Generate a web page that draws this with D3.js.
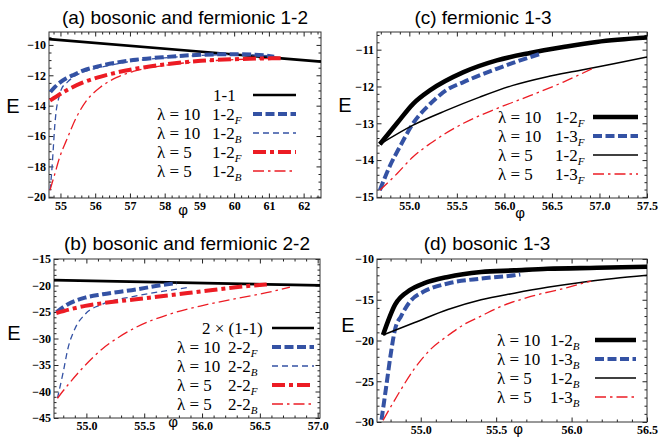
<!DOCTYPE html>
<html>
<head>
<meta charset="utf-8">
<script src="https://cdn.jsdelivr.net/npm/d3@7"></script>
<style>
body { margin: 0; background: #fff; }
svg { display: block; }
.tick text { font-family: "Liberation Serif", "Times New Roman", serif; font-weight: bold; font-size: 12px; fill: #000; }
.tick line { stroke: #222; }
</style>
</head>
<body>
<svg></svg>
<script>
// ---- data (phi, E) ----
// (a) bosonic and fermionic 1-2
var a_11 = [[54.67, -9.62], [62.5, -11.1]];
var a_12F_l10 = [[54.71, -13.1], [54.85, -12.75], [55.0, -12.45], [55.17, -12.2], [55.4, -11.95], [55.65, -11.7], [56.14, -11.38], [57.09, -11.0], [58.06, -10.79], [59.03, -10.65], [60.0, -10.61], [60.6, -10.64], [61.15, -10.78]];
var a_12B_l10 = [[54.7, -19.56], [54.75, -18.3], [54.79, -16.94], [54.83, -15.5], [54.88, -14.3], [54.95, -13.5], [55.03, -12.9], [55.2, -12.45], [55.36, -12.14], [55.7, -11.75], [56.14, -11.49], [57.0, -11.1], [58.0, -10.85], [59.0, -10.7], [60.0, -10.63], [61.0, -10.72]];
var a_12F_l5 = [[54.7, -13.67], [55.17, -13.0], [55.65, -12.47], [56.14, -12.1], [57.09, -11.6], [58.06, -11.27], [59.03, -11.05], [60.0, -10.94], [61.34, -10.88]];
var a_12B_l5 = [[54.7, -19.56], [54.84, -18.47], [54.98, -17.38], [55.17, -16.3], [55.46, -14.76], [55.75, -13.67], [56.14, -12.8], [56.62, -12.14], [57.09, -11.75], [58.0, -11.35], [59.0, -11.1], [60.0, -10.97], [61.0, -10.9]];
// (c) fermionic 1-3
var c_12F_l10 = [[54.69, -13.57], [54.87, -13.0], [55.04, -12.47], [55.22, -12.1], [55.57, -11.61], [55.92, -11.29], [56.27, -11.09], [56.62, -10.93], [56.97, -10.79], [57.5, -10.67]];
var c_13F_l10 = [[54.69, -14.82], [54.79, -14.19], [54.9, -13.64], [55.04, -13.0], [55.22, -12.47], [55.39, -12.1], [55.57, -11.88], [55.92, -11.52], [56.09, -11.36], [56.37, -11.12]];
var c_12F_l5 = [[54.69, -13.57], [55.04, -13.05], [55.39, -12.65], [55.74, -12.29], [56.09, -11.97], [56.44, -11.74], [56.8, -11.56], [57.15, -11.38], [57.5, -11.2]];
var c_13F_l5 = [[54.69, -14.82], [54.87, -14.37], [55.04, -13.91], [55.22, -13.55], [55.57, -13.0], [55.92, -12.6], [56.27, -12.25], [56.62, -11.88], [56.92, -11.52]];
// (b) bosonic and fermionic 2-2
var b_11x2 = [[54.72, -18.98], [57.02, -19.98]];
var b_22F_l10 = [[54.74, -25.08], [54.84, -23.53], [54.99, -22.28], [55.14, -21.66], [55.43, -20.75], [55.6, -20.1], [55.78, -19.55]];
var b_22B_l10 = [[54.75, -41.27], [54.8, -36.29], [54.84, -31.93], [54.9, -28.2], [54.99, -25.39], [55.14, -23.53], [55.43, -21.97], [55.72, -20.9], [55.9, -20.3]];
var b_22F_l5 = [[54.74, -25.2], [54.99, -23.84], [55.14, -23.34], [55.43, -22.59], [55.72, -21.85], [56.02, -21.04], [56.31, -20.29], [56.56, -19.79]];
var b_22B_l5 = [[54.75, -41.27], [54.84, -38.78], [54.99, -35.04], [55.14, -31.93], [55.28, -29.75], [55.43, -27.88], [55.72, -25.39], [56.02, -23.7], [56.31, -22.4], [56.61, -21.1], [56.76, -20.3]];
// (d) bosonic 1-3
var d_12B_l10 = [[54.75, -19.32], [54.83, -15.6], [54.93, -13.8], [55.02, -13.0], [55.18, -12.2], [55.4, -11.6], [55.62, -11.4], [55.84, -11.2], [56.17, -11.08], [56.5, -10.95]];
var d_13B_l10 = [[54.74, -29.72], [54.77, -25.8], [54.8, -21.8], [54.83, -18.6], [54.87, -17.0], [54.93, -15.2], [55.02, -14.0], [55.18, -13.0], [55.4, -12.4], [55.62, -12.0], [55.66, -11.9]];
var d_12B_l5 = [[54.75, -19.32], [54.96, -17.8], [55.18, -16.2], [55.4, -15.0], [55.62, -14.2], [55.84, -13.48], [56.06, -12.88], [56.28, -12.4], [56.5, -12.0]];
var d_13B_l5 = [[54.75, -29.8], [54.85, -26.6], [54.96, -23.4], [55.07, -21.0], [55.18, -19.4], [55.29, -18.0], [55.4, -17.0], [55.51, -16.0], [55.73, -14.6], [55.95, -13.6], [56.13, -12.7]];

// tick values
var a_xTicks = [55, 56, 57, 58, 59, 60, 61, 62];
var a_yTicks = [-20, -18, -16, -14, -12, -10];
var c_xTicks = [55.0, 55.5, 56.0, 56.5, 57.0, 57.5];
var c_yTicks = [-15, -14, -13, -12, -11];
var b_xTicks = [55.0, 55.5, 56.0, 56.5, 57.0];
var b_yTicks = [-45, -40, -35, -30, -25, -20, -15];
var d_xTicks = [55.0, 55.5, 56.0, 56.5];
var d_yTicks = [-30, -25, -20, -15, -10];

// line styles
var styles = {
  black: { stroke: "#000", width: 2.6 },
  thickBlack: { stroke: "#000", width: 4.6 },
  thinBlack: { stroke: "#000", width: 1.5 },
  thickBlue: { stroke: "#3452a4", width: 4, dash: "9,3.5" },
  thinBlue: { stroke: "#3452a4", width: 1.3, dash: "6,4" },
  thickRed: { stroke: "#ec1c24", width: 4, dash: "13,4,4,4" },
  thinRed: { stroke: "#ec1c24", width: 1.3, dash: "11,4,2.5,4" }
};

var svg = d3.select("svg").attr("width", 668).attr("height", 437);
var serif = "'Liberation Serif', 'Times New Roman', serif";
var sans = "'Liberation Sans', Arial, sans-serif";

function minorTicks(domain, step, majors) {
  var out = [];
  var start = Math.ceil(domain[0] / step - 1e-6);
  var end = Math.floor(domain[1] / step + 1e-6);
  for (var i = start; i <= end; i++) {
    var v = +(i * step).toFixed(4);
    if (!majors.some(m => Math.abs(m - v) < step / 2)) out.push(v);
  }
  return out;
}

function drawPanel(p) {
  var x = d3.scaleLinear().domain(p.xDomain).range([p.left, p.right]);
  var y = d3.scaleLinear().domain(p.yDomain).range([p.bottom, p.top]);
  var g = svg.append("g");

  svg.append("clipPath").attr("id", "clip-" + p.id)
    .append("rect")
      .attr("x", p.left).attr("y", p.top)
      .attr("width", p.right - p.left).attr("height", p.bottom - p.top);

  var xMinor = minorTicks(p.xDomain, p.xMinor, p.xTicks);
  var yMinor = minorTicks(p.yDomain, p.yMinor, p.yTicks);
  var none = () => "";

  //bottom axis with labels
  g.append("g").attr("transform", "translate(0," + p.bottom + ")")
    .call(d3.axisBottom(x).tickValues(p.xTicks).tickFormat(d3.format(p.xFmt)).tickSizeInner(-4.5).tickSizeOuter(0).tickPadding(3));
  g.append("g").attr("transform", "translate(0," + p.bottom + ")")
    .call(d3.axisBottom(x).tickValues(xMinor).tickFormat(none).tickSizeInner(-2.5).tickSizeOuter(0));
  //top axis, ticks only
  g.append("g").attr("transform", "translate(0," + p.top + ")")
    .call(d3.axisTop(x).tickValues(p.xTicks).tickFormat(none).tickSizeInner(-4.5).tickSizeOuter(0));
  g.append("g").attr("transform", "translate(0," + p.top + ")")
    .call(d3.axisTop(x).tickValues(xMinor).tickFormat(none).tickSizeInner(-2.5).tickSizeOuter(0));
  //left axis with labels
  g.append("g").attr("transform", "translate(" + p.left + ",0)")
    .call(d3.axisLeft(y).tickValues(p.yTicks).tickFormat(d3.format("d")).tickSizeInner(-4.5).tickSizeOuter(0).tickPadding(3));
  g.append("g").attr("transform", "translate(" + p.left + ",0)")
    .call(d3.axisLeft(y).tickValues(yMinor).tickFormat(none).tickSizeInner(-2.5).tickSizeOuter(0));
  //right axis, ticks only
  g.append("g").attr("transform", "translate(" + p.right + ",0)")
    .call(d3.axisRight(y).tickValues(p.yTicks).tickFormat(none).tickSizeInner(-4.5).tickSizeOuter(0));
  g.append("g").attr("transform", "translate(" + p.right + ",0)")
    .call(d3.axisRight(y).tickValues(yMinor).tickFormat(none).tickSizeInner(-2.5).tickSizeOuter(0));
  g.selectAll(".domain").remove();

  g.append("rect")
    .attr("x", p.left).attr("y", p.top)
    .attr("width", p.right - p.left).attr("height", p.bottom - p.top)
    .attr("fill", "none").attr("stroke", "#333").attr("stroke-width", 1);

  //the curves
  var line = d3.line().x(d => x(d[0])).y(d => y(d[1])).curve(d3.curveMonotoneX);
  var curves = g.append("g").attr("clip-path", "url(#clip-" + p.id + ")");
  p.series.forEach(s => {
    var st = styles[s.style];
    curves.append("path")
      .datum(s.data)
      .attr("d", line)
      .attr("fill", "none")
      .attr("stroke", st.stroke)
      .attr("stroke-width", st.width)
      .attr("stroke-dasharray", st.dash || null);
  });

  //legend
  var leg = g.append("g");
  p.series.forEach((s, i) => {
    var st = styles[s.style];
    var yy = p.legY[i];
    if (s.lam) {
      leg.append("text")
        .attr("x", p.lamX).attr("y", yy + 5.5)
        .attr("font-family", serif).attr("font-size", 17)
        .text("λ = " + s.lam);
    }
    var t = leg.append("text")
      .attr("x", s.lam ? p.labX : p.plainX).attr("y", yy + 5.5)
      .attr("font-family", serif).attr("font-size", 17);
    t.append("tspan").text(s.label);
    if (s.sub) {
      t.append("tspan").attr("dy", 4).attr("font-size", 11).attr("font-style", "italic").text(s.sub);
    }
    leg.append("line")
      .attr("x1", p.legLine[0]).attr("x2", p.legLine[1])
      .attr("y1", yy).attr("y2", yy)
      .attr("stroke", st.stroke)
      .attr("stroke-width", st.width)
      .attr("stroke-dasharray", st.dash || null);
  });

  //title and axis labels
  g.append("text")
    .attr("x", p.titleX).attr("y", p.titleY)
    .attr("text-anchor", "middle")
    .attr("font-family", sans).attr("font-size", 19)
    .text(p.title);
  g.append("text")
    .attr("x", p.eX).attr("y", p.eY)
    .attr("text-anchor", "middle").attr("dominant-baseline", "central")
    .attr("font-family", sans).attr("font-size", 20)
    .text("E");
  g.append("text")
    .attr("x", p.phiX).attr("y", p.phiY)
    .attr("text-anchor", "middle").attr("dominant-baseline", "central")
    .attr("font-family", sans).attr("font-size", 15)
    .text("φ");
}

drawPanel({
  id: "a", title: "(a) bosonic and fermionic 1-2", titleX: 185, titleY: 24,
  left: 49, right: 321, top: 32, bottom: 198,
  xDomain: [54.67, 62.5], yDomain: [-20.08, -9.15],
  xTicks: a_xTicks, yTicks: a_yTicks, xMinor: 0.2, yMinor: 0.5, xFmt: "d",
  eX: 13, eY: 106, phiX: 183, phiY: 209,
  legY: [95, 114, 133, 152, 171], lamX: 157, labX: 212, plainX: 213, legLine: [253, 296],
  series: [
    { data: a_11, style: "black", label: "1-1" },
    { data: a_12F_l10, style: "thickBlue", lam: "10", label: "1-2", sub: "F" },
    { data: a_12B_l10, style: "thinBlue", lam: "10", label: "1-2", sub: "B" },
    { data: a_12F_l5, style: "thickRed", lam: "5", label: "1-2", sub: "F" },
    { data: a_12B_l5, style: "thinRed", lam: "5", label: "1-2", sub: "B" }
  ]
});

drawPanel({
  id: "c", title: "(c) fermionic 1-3", titleX: 483, titleY: 24,
  left: 377, right: 647, top: 32, bottom: 198,
  xDomain: [54.66, 57.5], yDomain: [-15.03, -10.52],
  xTicks: c_xTicks, yTicks: c_yTicks, xMinor: 0.1, yMinor: 0.2, xFmt: ".1f",
  eX: 345, eY: 105, phiX: 520, phiY: 212,
  legY: [117, 136, 155, 174], lamX: 498, labX: 555, plainX: 555, legLine: [593, 638],
  series: [
    { data: c_12F_l10, style: "thickBlack", lam: "10", label: "1-2", sub: "F" },
    { data: c_13F_l10, style: "thickBlue", lam: "10", label: "1-3", sub: "F" },
    { data: c_12F_l5, style: "thinBlack", lam: "5", label: "1-2", sub: "F" },
    { data: c_13F_l5, style: "thinRed", lam: "5", label: "1-3", sub: "F" }
  ]
});

drawPanel({
  id: "b", title: "(b) bosonic and fermionic 2-2", titleX: 187, titleY: 250,
  left: 54, right: 320, top: 259, bottom: 418,
  xDomain: [54.72, 57.02], yDomain: [-45, -15],
  xTicks: b_xTicks, yTicks: b_yTicks, xMinor: 0.1, yMinor: 1, xFmt: ".1f",
  eX: 14, eY: 333, phiX: 173, phiY: 421,
  legY: [328, 347, 366, 385, 404], lamX: 177, labX: 228, plainX: 202, legLine: [272, 314],
  series: [
    { data: b_11x2, style: "black", label: "2 × (1-1)" },
    { data: b_22F_l10, style: "thickBlue", lam: "10", label: "2-2", sub: "F" },
    { data: b_22B_l10, style: "thinBlue", lam: "10", label: "2-2", sub: "B" },
    { data: b_22F_l5, style: "thickRed", lam: "5", label: "2-2", sub: "F" },
    { data: b_22B_l5, style: "thinRed", lam: "5", label: "2-2", sub: "B" }
  ]
});

drawPanel({
  id: "d", title: "(d) bosonic 1-3", titleX: 487, titleY: 250,
  left: 377, right: 647, top: 259, bottom: 422,
  xDomain: [54.71, 56.5], yDomain: [-30, -10],
  xTicks: d_xTicks, yTicks: d_yTicks, xMinor: 0.1, yMinor: 1, xFmt: ".1f",
  eX: 348, eY: 325, phiX: 518, phiY: 428,
  legY: [340, 359, 378, 397], lamX: 497, labX: 550, plainX: 550, legLine: [595, 636],
  series: [
    { data: d_12B_l10, style: "thickBlack", lam: "10", label: "1-2", sub: "B" },
    { data: d_13B_l10, style: "thickBlue", lam: "10", label: "1-3", sub: "B" },
    { data: d_12B_l5, style: "thinBlack", lam: "5", label: "1-2", sub: "B" },
    { data: d_13B_l5, style: "thinRed", lam: "5", label: "1-3", sub: "B" }
  ]
});
</script>
</body>
</html>
